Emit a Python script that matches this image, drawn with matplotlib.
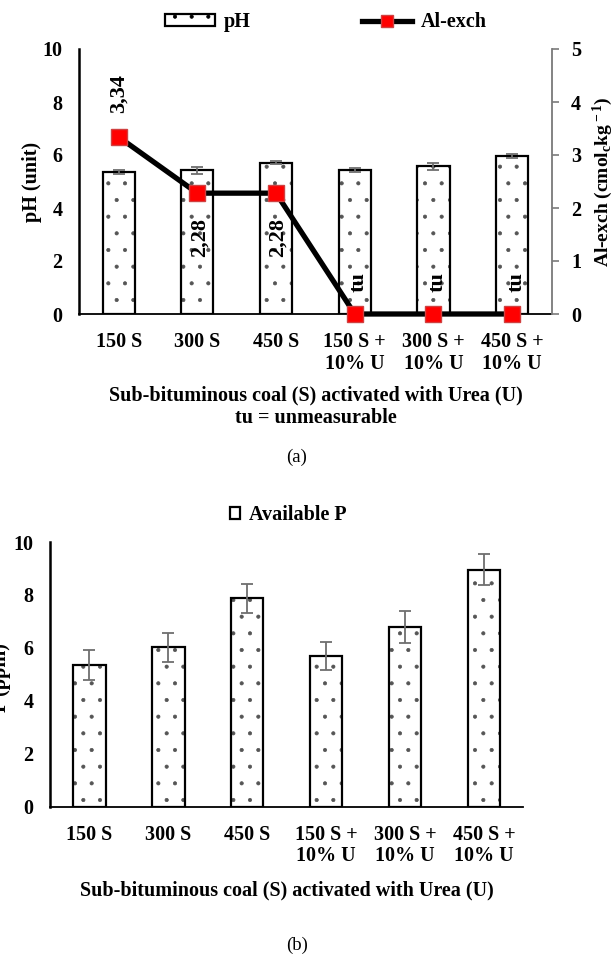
import matplotlib
matplotlib.use('Agg')
import matplotlib.pyplot as plt
import numpy as np

categories = ["150 S", "300 S", "450 S", "150 S +\n10% U", "300 S +\n10% U", "450 S +\n10% U"]
ph_values = [5.35, 5.42, 5.71, 5.42, 5.57, 5.96]
ph_err = [0.07, 0.13, 0.06, 0.08, 0.12, 0.06]
al_values = [3.34, 2.28, 2.28, 0, 0, 0]
al_labels = ["3,34", "2,28", "2,28", "tu", "tu", "tu"]
p_values = [5.35, 6.02, 7.87, 5.70, 6.78, 8.96]
p_err = [0.58, 0.56, 0.55, 0.54, 0.60, 0.59]
left_ticks = [0, 2, 4, 6, 8, 10]
right_ticks = [0, 1, 2, 3, 4, 5]

plt.rcParams['font.family'] = ['Liberation Serif', 'DejaVu Serif']
plt.rcParams['font.weight'] = 'bold'
plt.rcParams['mathtext.fontset'] = 'custom'
plt.rcParams['mathtext.rm'] = 'Liberation Serif:bold'
plt.rcParams['mathtext.it'] = 'Liberation Serif:bold'
plt.rcParams['mathtext.bf'] = 'Liberation Serif:bold'
plt.rcParams['hatch.linewidth'] = 0.5

W, H = 614, 958
fig = plt.figure(figsize=(W / 100, H / 100), dpi=100)
FS = 14.5


def fx(px):
    return px / W


def fy(py):
    return 1 - py / H


GRAY = '#7a7a7a'
DOT = '#555555'
err_kw = dict(ecolor='#6e6e6e', elinewidth=1.3, capsize=4, capthick=1.3, zorder=3)


def dotted_bars(axis, xs, vals, errs, label):
    axis.bar(xs, vals, width=0.41, color='white', edgecolor=DOT, linewidth=0,
             hatch='.', zorder=2)
    return axis.bar(xs, vals, width=0.41, fill=False, edgecolor='black', linewidth=1.6,
                    yerr=errs, error_kw=err_kw, label=label, zorder=2.5)


# ---------------- Top chart ----------------
ax = fig.add_axes([fx(79.3), fy(314), (551.5 - 79.3) / W, 265 / H])
x = np.arange(len(categories))
dotted_bars(ax, x, ph_values, ph_err, 'pH')
ax.set_xlim(-0.5, len(categories) - 0.5)
ax.set_ylim(0, 10)
ax.set_yticks(left_ticks)
ax.set_xticks(x)
ax.set_xticklabels(categories, fontsize=FS, fontweight='bold', linespacing=1.1)
ax.tick_params(axis='y', length=0, pad=12, labelsize=FS)
ax.tick_params(axis='x', length=0, pad=13)
for s in ['top', 'right']:
    ax.spines[s].set_visible(False)
ax.spines['left'].set_linewidth(1.8)
ax.spines['bottom'].set_linewidth(1.3)

ax2 = ax.twinx()
ax2.set_ylim(0, 5)
ax2.set_yticks(right_ticks)
line, = ax2.plot(x, al_values, color='black', linewidth=3.8, marker='s', markersize=11,
                 markerfacecolor='#ff0000', markeredgecolor='#d04040', markeredgewidth=1,
                 clip_on=False, zorder=4, label='Al-exch')
for s in ['top', 'left', 'bottom']:
    ax2.spines[s].set_visible(False)
ax2.spines['right'].set_color(GRAY)
ax2.spines['right'].set_linewidth(1.3)
ax2.tick_params(axis='y', length=5, width=1.2, color=GRAY, pad=9, labelsize=FS)

for xi, v, lab in zip(x, al_values, al_labels):
    if lab.startswith('3'):
        ax2.annotate(lab, (xi, v), xytext=(0, 17), textcoords='offset points', rotation=90,
                     ha='center', va='bottom', fontsize=16, fontweight='bold')
    elif lab.startswith('2'):
        ax2.annotate(lab, (xi, v), xytext=(1.5, -18), textcoords='offset points', rotation=90,
                     ha='center', va='top', fontsize=16, fontweight='bold')
    else:
        ax2.annotate(lab, (xi, v), xytext=(3, 16), textcoords='offset points', rotation=90,
                     ha='center', va='bottom', fontsize=16, fontweight='bold')

fig.text(fx(32), fy(181.5), 'pH (unit)', rotation=90, ha='center', va='center', fontsize=FS,
         fontweight='bold')
fig.text(fx(603), fy(181.5), r'Al-exch (cmol$_{\rm c}$kg$^{\rm -1}$)', rotation=90,
         ha='center', va='center', fontsize=14, fontweight='bold')

legend_patch = plt.Rectangle((0, 0), 1, 1, facecolor='white', edgecolor='black',
                             linewidth=1.6, hatch='.')
fig.legend(handles=[legend_patch, line], labels=['pH', 'Al-exch'], loc='center',
           bbox_to_anchor=(fx(326), fy(22)), ncol=2, frameon=False,
           handlelength=2.5, handleheight=0.5, handletextpad=0.45, columnspacing=5.5,
           markerscale=0.75, prop={'weight': 'bold', 'size': FS})

fig.text(fx(315.5), fy(395), 'Sub-bituminous coal (S) activated with Urea (U)', ha='center',
         va='center', fontsize=FS, fontweight='bold')
fig.text(fx(316), fy(418), 'tu = unmeasurable', ha='center', va='center', fontsize=FS,
         fontweight='bold')
fig.text(fx(297), fy(457), '(a)', ha='center', va='center', fontsize=13.5, fontweight='normal')

# ---------------- Bottom chart ----------------
bx = fig.add_axes([fx(50), fy(806.7), (523.4 - 50) / W, 264.7 / H])
dotted_bars(bx, x, p_values, p_err, 'Available P')
bx.set_xlim(-0.5, len(categories) - 0.5)
bx.set_ylim(0, 10)
bx.set_yticks(left_ticks)
bx.set_xticks(x)
bx.set_xticklabels(categories, fontsize=FS, fontweight='bold', linespacing=1.1)
bx.tick_params(axis='y', length=0, pad=12, labelsize=FS)
bx.tick_params(axis='x', length=0, pad=13)
for s in ['top', 'right']:
    bx.spines[s].set_visible(False)
bx.spines['left'].set_linewidth(1.8)
bx.spines['bottom'].set_linewidth(1.3)

fig.text(fx(1), fy(678), 'P (ppm)', rotation=90, ha='center', va='center', fontsize=FS,
         fontweight='bold')

p_patch = plt.Rectangle((0, 0), 1, 1, facecolor='white', edgecolor='black', linewidth=1.6)
fig.legend(handles=[p_patch], labels=['Available P'], loc='center',
           bbox_to_anchor=(fx(288), fy(515)), frameon=False, handlelength=0.5,
           handleheight=0.5, handletextpad=0.45, prop={'weight': 'bold', 'size': FS})

fig.text(fx(287), fy(890), 'Sub-bituminous coal (S) activated with Urea (U)', ha='center',
         va='center', fontsize=FS, fontweight='bold')
fig.text(fx(297), fy(945), '(b)', ha='center', va='center', fontsize=13.5, fontweight='normal')

fig.savefig('out.png', dpi=100)
